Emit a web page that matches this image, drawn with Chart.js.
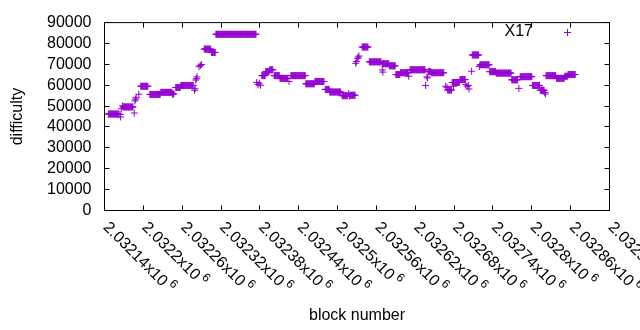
<!DOCTYPE html>
<html lang="en">
<head>
  <meta charset="UTF-8">
  <title>difficulty per block</title>
  <script src="https://cdn.jsdelivr.net/npm/chart.js"></script>
  <style>
    body { margin: 0; background: #fff; }
  </style>
</head>
<body>
  <canvas id="difficultyChart" width="640" height="330"></canvas>

  <script>
    const seriesLabel = 'X17';
    const xTickLabels = ['2.03214', '2.0322', '2.03226', '2.03232', '2.03238', '2.03244', '2.0325',
      '2.03256', '2.03262', '2.03268', '2.03274', '2.0328', '2.03286', '2.03292'];

    // block numbers (one per block, same line layout as difficulty below)
    const blockNumber = [
      2032146, 2032147, 2032148, 2032149, 2032150, 2032151, 2032152, 2032153, 2032154, 2032155, 2032156, 2032157, 2032158, 2032159, 2032160, 2032161, 2032162,
      2032164, 2032165, 2032166, 2032168,
      2032169, 2032170, 2032171, 2032172, 2032173, 2032174, 2032175, 2032176, 2032177, 2032178, 2032179, 2032180, 2032181, 2032182, 2032183, 2032184,
      2032186, 2032187, 2032188, 2032189, 2032193,
      2032196, 2032197, 2032198, 2032199, 2032200, 2032201, 2032202, 2032203, 2032204, 2032205, 2032206, 2032207,
      2032210, 2032211, 2032212, 2032213, 2032214, 2032215, 2032216, 2032217, 2032218, 2032219, 2032220, 2032221, 2032222, 2032223, 2032224, 2032225, 2032226,
      2032227, 2032228, 2032229, 2032230, 2032231, 2032232, 2032233, 2032234, 2032235, 2032236, 2032237, 2032238, 2032239, 2032240, 2032241, 2032242, 2032243, 2032244,
      2032245, 2032246, 2032247,
      2032250, 2032251, 2032252, 2032253, 2032254, 2032255, 2032256, 2032257,
      2032258, 2032259, 2032260, 2032261, 2032262, 2032263, 2032264, 2032265, 2032266, 2032267, 2032268, 2032269, 2032270, 2032271, 2032272, 2032273, 2032274, 2032275, 2032276, 2032277,
      2032279, 2032280, 2032281, 2032282, 2032283, 2032286, 2032288, 2032290,
      2032294, 2032295, 2032296, 2032297, 2032298, 2032299, 2032300, 2032301, 2032302, 2032303, 2032304,
      2032305, 2032306, 2032307, 2032308, 2032309, 2032310, 2032311,
      2032312, 2032313, 2032314, 2032315, 2032316, 2032317, 2032318, 2032319, 2032320, 2032321, 2032322, 2032323, 2032324, 2032325, 2032326, 2032327,
      2032328, 2032329, 2032330, 2032331, 2032332, 2032333, 2032334, 2032335, 2032336, 2032337, 2032338, 2032339, 2032340, 2032341, 2032342, 2032343,
      2032344, 2032345, 2032346, 2032347, 2032348, 2032349, 2032350, 2032351, 2032352, 2032353, 2032354, 2032355, 2032356, 2032357, 2032358, 2032359,
      2032360, 2032361, 2032362, 2032363, 2032364, 2032365, 2032366, 2032367, 2032368, 2032369, 2032370, 2032371, 2032372, 2032373, 2032374,
      2032375, 2032377, 2032379, 2032381,
      2032383, 2032384, 2032385, 2032386, 2032387, 2032388,
      2032389, 2032390, 2032391, 2032392, 2032393, 2032394,
      2032395, 2032396, 2032397, 2032398, 2032399, 2032400,
      2032402, 2032403, 2032404, 2032405, 2032406, 2032407, 2032408, 2032409, 2032410,
      2032411, 2032412, 2032413, 2032414, 2032415, 2032416, 2032417, 2032418, 2032419, 2032420, 2032421, 2032422, 2032423,
      2032425,
      2032428, 2032429, 2032430, 2032431, 2032432, 2032433, 2032434, 2032435, 2032436, 2032437, 2032438, 2032439,
      2032440, 2032441, 2032442, 2032443, 2032444, 2032445, 2032446, 2032447, 2032448, 2032449, 2032450,
      2032451, 2032452, 2032453, 2032454, 2032455, 2032456, 2032457, 2032458, 2032459, 2032460, 2032461, 2032462, 2032463, 2032464,
      2032465, 2032466, 2032467, 2032468, 2032469, 2032470, 2032471, 2032472, 2032473, 2032474, 2032475, 2032476, 2032477, 2032478, 2032479,
      2032481, 2032482, 2032483, 2032484, 2032485, 2032486, 2032487,
      2032488, 2032489, 2032490, 2032491, 2032492, 2032493, 2032494, 2032495, 2032496, 2032497, 2032498, 2032499, 2032500, 2032501, 2032502, 2032503, 2032504, 2032505,
      2032507, 2032508, 2032509, 2032510, 2032511, 2032512, 2032513, 2032514, 2032515,
      2032517, 2032518,
      2032519, 2032520, 2032521, 2032522, 2032523, 2032524, 2032525, 2032526, 2032527,
      2032528, 2032529, 2032531, 2032532, 2032533,
      2032538, 2032539, 2032540, 2032541, 2032542, 2032543, 2032544, 2032545, 2032546, 2032547,
      2032549, 2032550, 2032551, 2032552, 2032553, 2032554, 2032555, 2032556, 2032557, 2032558, 2032559, 2032560, 2032561, 2032562, 2032563, 2032564, 2032565, 2032566, 2032567,
      2032569, 2032570,
      2032569, 2032570, 2032571, 2032572, 2032573, 2032574, 2032575, 2032576, 2032577, 2032578, 2032579,
      2032580, 2032581, 2032582, 2032583, 2032584, 2032585, 2032586, 2032587, 2032588, 2032589,
      2032590, 2032591, 2032592, 2032593, 2032594, 2032595, 2032596,
      2032597, 2032598, 2032599, 2032600, 2032601, 2032602, 2032603, 2032604, 2032605, 2032606, 2032607, 2032608, 2032609,
      2032610,
      2032612, 2032613, 2032614, 2032615, 2032616, 2032617, 2032618, 2032619, 2032620, 2032621, 2032622, 2032623,
      2032624, 2032625, 2032626, 2032627, 2032628, 2032629, 2032630, 2032631, 2032632, 2032633, 2032634, 2032635,
      2032636, 2032638, 2032639,
      2032640, 2032641, 2032642, 2032643, 2032644,
      2032645, 2032646, 2032647, 2032648, 2032649, 2032650, 2032651, 2032652, 2032653, 2032654, 2032655, 2032656, 2032657, 2032658, 2032659, 2032660, 2032661, 2032662, 2032663, 2032664,
      2032667, 2032669,
      2032670, 2032671, 2032672, 2032673, 2032674, 2032675, 2032676,
      2032677, 2032678, 2032679, 2032680, 2032681, 2032682, 2032683, 2032684, 2032685, 2032686, 2032687, 2032688,
      2032679,
      2032689, 2032690, 2032691, 2032692, 2032693, 2032694, 2032695, 2032696, 2032697,
      2032698, 2032700, 2032702, 2032703, 2032707,
      2032708, 2032709, 2032710, 2032711, 2032712, 2032713, 2032714, 2032715, 2032716, 2032717, 2032718,
      2032719,
      2032720, 2032721, 2032722, 2032723, 2032724, 2032725, 2032726, 2032727, 2032728, 2032729, 2032730, 2032731, 2032732, 2032733, 2032734,
      2032735, 2032736, 2032737, 2032738, 2032739, 2032740, 2032741, 2032742, 2032743, 2032744,
      2032745, 2032746, 2032747, 2032748, 2032749, 2032750, 2032751, 2032752, 2032753, 2032754, 2032755, 2032756,
      2032757, 2032758, 2032759, 2032760, 2032761, 2032762, 2032763, 2032764, 2032765, 2032766, 2032767, 2032768,
      2032769, 2032770, 2032771, 2032772, 2032773, 2032774, 2032775, 2032776, 2032777, 2032778,
      2032780,
      2032782, 2032783, 2032784, 2032785, 2032786, 2032787, 2032788, 2032789, 2032790, 2032791, 2032792, 2032793, 2032794, 2032795, 2032796, 2032797, 2032798, 2032799, 2032800,
      2032801, 2032802, 2032803, 2032804, 2032805, 2032806, 2032807, 2032808, 2032809, 2032810, 2032811, 2032812,
      2032813, 2032814, 2032815, 2032816, 2032817, 2032818, 2032819,
      2032820, 2032821,
      2032822, 2032823, 2032824, 2032825, 2032826, 2032827, 2032828, 2032829, 2032830, 2032831, 2032832, 2032833, 2032834, 2032835, 2032836, 2032837,
      2032838, 2032839, 2032840, 2032841, 2032842, 2032843, 2032844, 2032845, 2032846, 2032847, 2032848, 2032849, 2032850,
      2032851, 2032852, 2032853, 2032854, 2032855,
      2032856, 2032857, 2032858, 2032859, 2032860, 2032861, 2032862, 2032863, 2032864, 2032865, 2032866, 2032867
    ];

    const difficulty = [
      46200, 46200, 46200, 46200, 46200, 46200, 46200, 46200, 46200, 46200, 46200, 46200, 46200, 46200, 46200, 46200, 46200,
      46000, 44800, 48700, 50100,
      49600, 49600, 49600, 49600, 49600, 49600, 49600, 49600, 49600, 49600, 49600, 49600, 49600, 49600, 49600, 49600,
      46700, 52500, 53300, 54000, 55700,
      59500, 59500, 59500, 59500, 59500, 59500, 59500, 59500, 59500, 59500, 59500, 59500,
      55600, 55600, 55600, 55600, 55600, 55600, 55600, 55600, 55600, 55600, 55600, 55600, 55600, 55600, 55600, 55600, 55600,
      56600, 56600, 56600, 56600, 56600, 56600, 56600, 56600, 56600, 56600, 56600, 56600, 56600, 56600, 56600, 56600, 56600, 56600,
      55800, 55800, 55800,
      58900, 58900, 58900, 58900, 58900, 58900, 58900, 58900,
      59900, 59900, 59900, 59900, 59900, 59900, 59900, 59900, 59900, 59900, 59900, 59900, 59900, 59900, 59900, 59900, 59900, 59900, 59900, 59900,
      57600, 58300, 62500, 63200, 64000, 68900, 69400, 69900,
      77300, 77300, 77300, 77300, 77300, 77300, 77300, 77300, 77300, 77300, 77300,
      75700, 75700, 75700, 75700, 75700, 75700, 75700,
      84400, 84400, 84400, 84400, 84400, 84400, 84400, 84400, 84400, 84400, 84400, 84400, 84400, 84400, 84400, 84400,
      84400, 84400, 84400, 84400, 84400, 84400, 84400, 84400, 84400, 84400, 84400, 84400, 84400, 84400, 84400, 84400,
      84400, 84400, 84400, 84400, 84400, 84400, 84400, 84400, 84400, 84400, 84400, 84400, 84400, 84400, 84400, 84400,
      84400, 84400, 84400, 84400, 84400, 84400, 84400, 84400, 84400, 84400, 84400, 84400, 84400, 84400, 84400,
      61300, 60300, 61000, 60000,
      64600, 64600, 64600, 64600, 64600, 64600,
      66500, 66500, 66500, 66500, 66500, 66500,
      67400, 67400, 67400, 67400, 67400, 67400,
      64600, 64600, 64600, 64600, 64600, 64600, 64600, 64600, 64600,
      63300, 63300, 63300, 63300, 63300, 63300, 63300, 63300, 63300, 63300, 63300, 63300, 63300,
      61800,
      64600, 64600, 64600, 64600, 64600, 64600, 64600, 64600, 64600, 64600, 64600, 64600,
      64600, 64600, 64600, 64600, 64600, 64600, 64600, 64600, 64600, 64600, 64600,
      60700, 60700, 60700, 60700, 60700, 60700, 60700, 60700, 60700, 60700, 60700, 60700, 60700, 60700,
      61800, 61800, 61800, 61800, 61800, 61800, 61800, 61800, 61800, 61800, 61800, 61800, 61800, 61800, 61800,
      58000, 58000, 58000, 58000, 58000, 58000, 58000,
      56750, 56750, 56750, 56750, 56750, 56750, 56750, 56750, 56750, 56750, 56750, 56750, 56750, 56750, 56750, 56750, 56750, 56750,
      55000, 55000, 55000, 55000, 55000, 55000, 55000, 55000, 55000,
      56000, 54700,
      55200, 55200, 55200, 55200, 55200, 55200, 55200, 55200, 55200,
      70500, 71300, 72900, 73500, 74000,
      78300, 78300, 78300, 78300, 78300, 78300, 78300, 78300, 78300, 78300,
      71200, 71200, 71200, 71200, 71200, 71200, 71200, 71200, 71200, 71200, 71200, 71200, 71200, 71200, 71200, 71200, 71200, 71200, 71200,
      67300, 66300,
      70300, 70300, 70300, 70300, 70300, 70300, 70300, 70300, 70300, 70300, 70300,
      69300, 69300, 69300, 69300, 69300, 69300, 69300, 69300, 69300, 69300,
      65100, 65100, 65100, 65100, 65100, 65100, 65100,
      66000, 66000, 66000, 66000, 66000, 66000, 66000, 66000, 66000, 66000, 66000, 66000, 66000,
      64300,
      67400, 67400, 67400, 67400, 67400, 67400, 67400, 67400, 67400, 67400, 67400, 67400,
      67400, 67400, 67400, 67400, 67400, 67400, 67400, 67400, 67400, 67400, 67400, 67400,
      59900, 64000, 63500,
      66500, 66500, 66500, 66500, 66500,
      66000, 66000, 66000, 66000, 66000, 66000, 66000, 66000, 66000, 66000, 66000, 66000, 66000, 66000, 66000, 66000, 66000, 66000, 66000, 66000,
      59500, 59000,
      57700, 57700, 57700, 57700, 57700, 57700, 57700,
      61300, 61300, 61300, 61300, 61300, 61300, 61300, 61300, 61300, 61300, 61300, 61300,
      59500,
      62700, 62700, 62700, 62700, 62700, 62700, 62700, 62700, 62700,
      60300, 59500, 59800, 58200, 66700,
      74500, 74500, 74500, 74500, 74500, 74500, 74500, 74500, 74500, 74500, 74500,
      69000,
      69800, 69800, 69800, 69800, 69800, 69800, 69800, 69800, 69800, 69800, 69800, 69800, 69800, 69800, 69800,
      66500, 66500, 66500, 66500, 66500, 66500, 66500, 66500, 66500, 66500,
      65800, 65800, 65800, 65800, 65800, 65800, 65800, 65800, 65800, 65800, 65800, 65800,
      65800, 65800, 65800, 65800, 65800, 65800, 65800, 65800, 65800, 65800, 65800, 65800,
      62600, 62600, 62600, 62600, 62600, 62600, 62600, 62600, 62600, 62600,
      58500,
      64100, 64100, 64100, 64100, 64100, 64100, 64100, 64100, 64100, 64100, 64100, 64100, 64100, 64100, 64100, 64100, 64100, 64100, 64100,
      59900, 59900, 59900, 59900, 59900, 59900, 59900, 59900, 59900, 59900, 59900, 59900,
      57600, 57600, 57600, 57600, 57600, 57600, 57600,
      56500, 55800,
      64600, 64600, 64600, 64600, 64600, 64600, 64600, 64600, 64600, 64600, 64600, 64600, 64600, 64600, 64600, 64600,
      63300, 63300, 63300, 63300, 63300, 63300, 63300, 63300, 63300, 63300, 63300, 63300, 63300,
      64300, 64300, 64300, 64300, 64300,
      65100, 65100, 65100, 65100, 65100, 65100, 65100, 65100, 65100, 65100, 65100, 65100
    ];

    const purple = '#9400d3';
    const fontFamily = '"Liberation Sans", Arial, sans-serif';

    if (blockNumber.length !== difficulty.length) {
      console.error('length mismatch', blockNumber.length, difficulty.length);
    }
    const points = blockNumber.map((b, i) => ({ x: b, y: difficulty[i] }));

    // gnuplot-like frame: border, inward ticks on all sides, rotated x labels, key
    const gnuplotFrame = {
      id: 'gnuplotFrame',
      afterDraw(chart) {
        const { ctx, chartArea: a, scales: { x, y } } = chart;
        ctx.save();
        ctx.strokeStyle = '#000';
        ctx.lineWidth = 1;
        ctx.strokeRect(a.left, a.top, a.right - a.left, a.bottom - a.top);

        ctx.beginPath();
        x.ticks.forEach(t => {
          const px = Math.floor(x.getPixelForValue(t.value)) + 0.5;
          ctx.moveTo(px, a.bottom); ctx.lineTo(px, a.bottom - 5);
          ctx.moveTo(px, a.top); ctx.lineTo(px, a.top + 5);
        });
        y.ticks.forEach(t => {
          const py = Math.floor(y.getPixelForValue(t.value)) + 0.5;
          ctx.moveTo(a.left, py); ctx.lineTo(a.left + 5, py);
          ctx.moveTo(a.right, py); ctx.lineTo(a.right - 5, py);
        });
        ctx.stroke();

        ctx.fillStyle = '#000';
        x.ticks.forEach((t, i) => {
          const label = xTickLabels[i];
          if (!label) return;
          const px = x.getPixelForValue(t.value);
          ctx.save();
          ctx.translate(px - 2, a.bottom + 17.5);
          ctx.rotate(Math.PI / 4);
          ctx.textAlign = 'left';
          ctx.textBaseline = 'alphabetic';
          ctx.font = '16px ' + fontFamily;
          const main = label + 'x10';
          ctx.fillText(main, 0, 0);
          const w = ctx.measureText(main).width;
          ctx.font = '12px ' + fontFamily;
          ctx.fillText('6', w + 3, -7);
          ctx.restore();
        });

        // key
        ctx.font = '16px ' + fontFamily;
        ctx.textAlign = 'right';
        ctx.textBaseline = 'middle';
        ctx.fillText(chart.data.datasets[0].label, 533, 31.5);
        ctx.strokeStyle = purple;
        ctx.beginPath();
        ctx.moveTo(564, 32.5); ctx.lineTo(571, 32.5);
        ctx.moveTo(567.5, 29); ctx.lineTo(567.5, 36);
        ctx.stroke();
        ctx.restore();
      }
    };

    const ctx = document.getElementById('difficultyChart').getContext('2d');
    const difficultyChart = new Chart(ctx, {
      type: 'scatter',
      data: {
        datasets: [{
          label: seriesLabel,
          data: points,
          pointStyle: 'cross',
          pointRadius: 3.5,
          pointHoverRadius: 3.5,
          borderWidth: 1,
          borderColor: purple,
          backgroundColor: purple
        }]
      },
      options: {
        responsive: false,
        animation: false,
        layout: { padding: { top: 19.5, right: 30.5, left: 0, bottom: 0 } },
        plugins: {
          legend: { display: false },
          tooltip: { enabled: false }
        },
        scales: {
          x: {
            type: 'linear',
            min: 2032140,
            max: 2032920,
            ticks: { display: false, stepSize: 60, autoSkip: false, maxTicksLimit: 100 },
            grid: { display: false, drawTicks: false },
            border: { display: false },
            title: {
              display: true,
              text: 'block number',
              color: '#000',
              font: { family: fontFamily, size: 16 },
              padding: { top: 0, bottom: 5 }
            },
            afterFit(scale) { scale.height = 119.5; }
          },
          y: {
            min: 0,
            max: 90000,
            ticks: {
              stepSize: 10000,
              autoSkip: false,
              maxTicksLimit: 100,
              padding: 13,
              color: '#000',
              font: { family: fontFamily, size: 16 },
              callback: v => String(v)
            },
            grid: { display: false, drawTicks: false },
            border: { display: false },
            title: {
              display: true,
              text: 'difficulty',
              color: '#000',
              font: { family: fontFamily, size: 16 },
              padding: { top: 8, bottom: 0 }
            },
            afterFit(scale) { scale.width = 104.5; }
          }
        }
      },
      plugins: [gnuplotFrame]
    });
  </script>
</body>
</html>
